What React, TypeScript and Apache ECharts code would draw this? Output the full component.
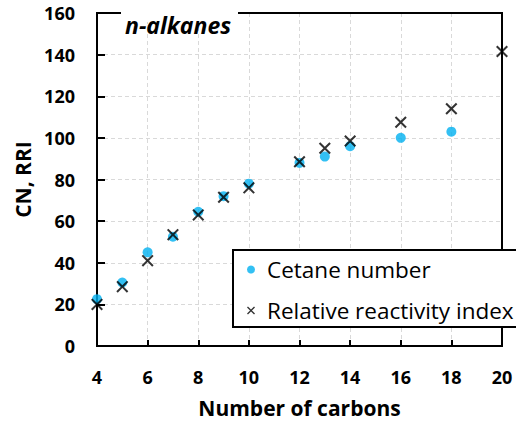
import React, { useEffect, useRef } from "react";
import * as echarts from "echarts";

const carbons = [4, 5, 6, 7, 8, 9, 10, 12, 13, 14, 16, 18, 20];
const cetaneNumber = [22.5, 30.5, 45, 52.5, 64.5, 72, 78, 88, 91, 96, 100, 103, null];
const relativeReactivity = [20, 28.5, 41, 53.5, 63, 71.5, 76, 88.5, 95, 98.5, 107.5, 114, 141.5];
const xTicks = { min: 4, max: 20, interval: 2 };
const yTicks = { min: 0, max: 160, interval: 20 };

const CROSS =
  "path://M0,1.2L1.2,0L5,3.8L8.8,0L10,1.2L6.2,5L10,8.8L8.8,10L5,6.2L1.2,10L0,8.8L3.8,5Z";

export default function App() {
  const ref = useRef<HTMLDivElement>(null);
  useEffect(() => {
    if (!ref.current) return;
    const chart = echarts.init(ref.current, undefined, { renderer: "svg" });
    const font = "Open Sans";
    chart.setOption({
      animation: false,
      backgroundColor: "#fff",
      textStyle: { fontFamily: font },
      grid: {
        left: 97,
        right: 14,
        top: 13,
        bottom: 76,
        show: true,
        borderColor: "#000",
        borderWidth: 2,
        z: 1,
      },
      xAxis: {
        type: "value",
        min: xTicks.min,
        max: xTicks.max,
        interval: xTicks.interval,
        name: "Number of carbons",
        nameLocation: "middle",
        nameGap: 51,
        nameTextStyle: { fontFamily: font, fontWeight: "bold", fontSize: 21, color: "#000" },
        axisLine: { show: true, lineStyle: { color: "#000", width: 2 } },
        axisTick: { show: true, inside: true, length: 6, lineStyle: { color: "#000", width: 2 } },
        axisLabel: { margin: 22, fontFamily: font, fontWeight: "bold", fontSize: 18, color: "#000" },
        splitLine: { show: true, lineStyle: { color: "#d9d9d9", type: [4, 3], width: 1 } },
      },
      yAxis: {
        type: "value",
        min: yTicks.min,
        max: yTicks.max,
        interval: yTicks.interval,
        name: "CN, RRI",
        nameLocation: "middle",
        nameGap: 62,
        nameTextStyle: { fontFamily: font, fontWeight: "bold", fontSize: 21, color: "#000" },
        axisLine: { show: true, lineStyle: { color: "#000", width: 2 } },
        axisTick: { show: true, inside: true, length: 8, lineStyle: { color: "#000", width: 2 } },
        axisLabel: { margin: 22, fontFamily: font, fontWeight: "bold", fontSize: 18, color: "#000" },
        splitLine: { show: true, lineStyle: { color: "#d9d9d9", type: [4, 3], width: 1 } },
      },
      legend: {
        orient: "vertical",
        left: 233,
        top: 250,
        backgroundColor: "#fff",
        borderColor: "#000",
        borderWidth: 2,
        padding: [8, 20, 5, 14],
        itemGap: 18,
        itemWidth: 8,
        itemHeight: 8,
        z: 10,
        textStyle: {
          fontFamily: font,
          fontSize: 22.5,
          lineHeight: 22,
          color: "#000",
          padding: [0, 0, 0, 7],
        },
        data: [
          { name: "Cetane number", icon: "circle" },
          { name: "Relative reactivity index", icon: CROSS },
        ],
      },
      graphic: [
        {
          type: "rect",
          z: 100,
          shape: { x: 121, y: 4, width: 117, height: 18 },
          style: { fill: "#fff" },
        },
        {
          type: "text",
          z: 101,
          x: 125,
          y: 25,
          style: {
            text: "n-alkanes",
            fontFamily: font,
            fontWeight: "bold",
            fontStyle: "italic",
            fontSize: 23,
            fill: "#000",
            textVerticalAlign: "middle",
          },
        },
      ],
      series: [
        {
          name: "Cetane number",
          type: "scatter",
          symbol: "circle",
          symbolSize: 10,
          itemStyle: { color: "#00B0F0" },
          z: 2,
          data: carbons
            .map((c, i) => (cetaneNumber[i] == null ? null : [c, cetaneNumber[i]]))
            .filter(Boolean),
        },
        {
          name: "Relative reactivity index",
          type: "scatter",
          symbol: CROSS,
          symbolSize: 12,
          itemStyle: { color: "#000" },
          z: 3,
          data: carbons.map((c, i) => [c, relativeReactivity[i]]),
        },
      ],
    });
    return () => chart.dispose();
  }, []);
  return <div ref={ref} style={{ width: 516, height: 423, position: "absolute", left: 0, top: 0 }} />;
}
